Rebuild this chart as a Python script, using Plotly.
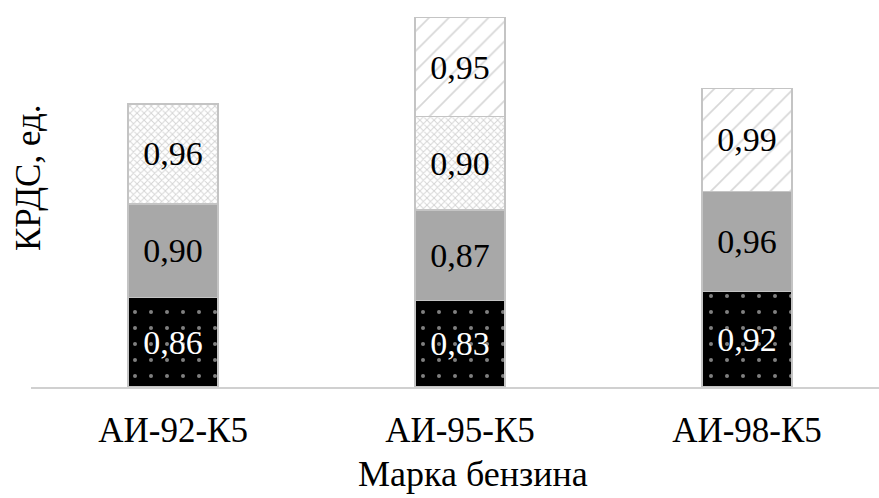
import plotly.graph_objects as go

# Petrol grades and stacked KRDS values per grade
grades = ["АИ-92-К5", "АИ-95-К5", "АИ-98-К5"]
layer1 = [0.86, 0.83, 0.92]
layer2 = [0.90, 0.87, 0.96]
layer3 = [0.96, 0.90, None]
layer4 = [None, 0.95, 0.99]

FONT = "'Times New Roman', 'Liberation Serif', serif"
EDGE = dict(color="#c4c4c4", width=1.5)
PLOT_W = 848  # plot area width in px (879 - left margin)
PLOT_H = 387  # plot area height in px

styles = [
    dict(values=layer1, bg="black", fg="white", shape=".", size=16, solidity=0.05, txt="white"),
    dict(values=layer2, bg="#a8a8a8", fg="#a8a8a8", shape="", size=8, solidity=0.2, txt="black"),
    dict(values=layer3, bg="white", fg="#a9a9a9", shape="x", size=5, solidity=0.35, txt="black"),
    dict(values=layer4, bg="white", fg="#b0b0b0", shape="/", size=14, solidity=0.12, txt="black"),
]

fig = go.Figure()
for i, s in enumerate(styles):
    fig.add_trace(go.Bar(
        x=grades,
        y=s["values"],
        name=f"Слой {i + 1}",
        width=0.314,
        marker=dict(
            color=s["bg"],
            line=EDGE,
            pattern=dict(shape=s["shape"], fgcolor=s["fg"], bgcolor=s["bg"],
                         size=s["size"], solidity=s["solidity"], fillmode="overlay"),
        ),
        texttemplate="%{y:.2f}",
        textposition="inside",
        insidetextanchor="middle",
        textangle=0,
        textfont=dict(family=FONT, size=34, color=s["txt"]),
        hoverinfo="skip",
    ))

fig.update_layout(
    width=879,
    height=498,
    barmode="stack",
    separators=", ",
    showlegend=False,
    plot_bgcolor="white",
    paper_bgcolor="white",
    margin=dict(l=31, r=0, t=0, b=111),
    font=dict(family=FONT, color="black"),
    xaxis=dict(
        type="category",
        range=[-0.495, 2.46],
        showgrid=False,
        showline=True,
        linecolor="#d0d0d0",
        linewidth=1.5,
        ticks="",
        tickfont=dict(family=FONT, size=35, color="black"),
        ticklabelstandoff=11,
    ),
    yaxis=dict(
        range=[0, 3.72],
        showgrid=False,
        showline=False,
        zeroline=False,
        showticklabels=False,
        ticks="",
    ),
    annotations=[
        dict(
            text="КРДС, ед.",
            xref="paper", yref="paper",
            x=-3 / PLOT_W, y=0.54,
            xanchor="center", yanchor="middle",
            textangle=-90,
            showarrow=False,
            font=dict(family=FONT, size=35, color="black"),
        ),
        dict(
            text="Марка бензина",
            xref="paper", yref="paper",
            x=(473 - 31) / PLOT_W, y=-(474 - PLOT_H) / PLOT_H,
            xanchor="center", yanchor="middle",
            showarrow=False,
            font=dict(family=FONT, size=36, color="black"),
        ),
    ],
)

fig.write_html("out.html")
